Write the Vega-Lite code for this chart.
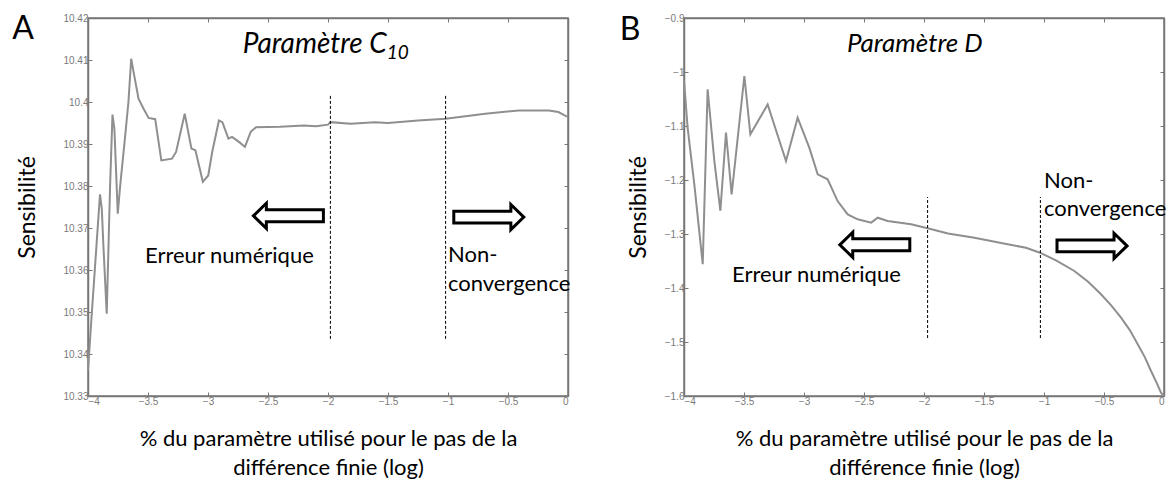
{
  "$schema": "https://vega.github.io/schema/vega-lite/v6.json",
  "background": "white",
  "padding": {"left": 11, "top": 12, "right": 0, "bottom": 0},
  "spacing": 45,
  "config": {
    "view": {"stroke": "#777777", "strokeWidth": 1.5},
    "axis": {
      "grid": false,
      "labelFont": "Liberation Sans",
      "labelFontSize": 10,
      "labelColor": "#7a7a7a",
      "labelPadding": 4,
      "tickColor": "#777777",
      "tickSize": -4,
      "domainColor": "#777777",
      "domainWidth": 1.5,
      "titleFont": "Lato",
      "titleFontSize": 22,
      "titleFontWeight": "normal",
      "titleColor": "#000000"
    }
  },
  "datasets": {
    "curveA": [
      {"x": -4.0, "y": 10.336}, {"x": -3.97, "y": 10.349}, {"x": -3.9, "y": 10.378}, {"x": -3.885, "y": 10.3746},
      {"x": -3.872, "y": 10.366}, {"x": -3.844, "y": 10.3496}, {"x": -3.816, "y": 10.38}, {"x": -3.796, "y": 10.397},
      {"x": -3.78, "y": 10.3936}, {"x": -3.752, "y": 10.3734}, {"x": -3.732, "y": 10.38}, {"x": -3.69, "y": 10.392},
      {"x": -3.663, "y": 10.4}, {"x": -3.64, "y": 10.4103}, {"x": -3.62, "y": 10.4071}, {"x": -3.579, "y": 10.4008},
      {"x": -3.537, "y": 10.3984}, {"x": -3.495, "y": 10.3962}, {"x": -3.44, "y": 10.3959}, {"x": -3.389, "y": 10.3861},
      {"x": -3.3, "y": 10.3865}, {"x": -3.266, "y": 10.3881}, {"x": -3.194, "y": 10.3972}, {"x": -3.138, "y": 10.3889},
      {"x": -3.105, "y": 10.3885}, {"x": -3.043, "y": 10.381}, {"x": -2.998, "y": 10.3825}, {"x": -2.965, "y": 10.3881},
      {"x": -2.909, "y": 10.3956}, {"x": -2.88, "y": 10.3952}, {"x": -2.83, "y": 10.3913}, {"x": -2.8, "y": 10.3917},
      {"x": -2.742, "y": 10.3905}, {"x": -2.692, "y": 10.3893}, {"x": -2.644, "y": 10.3929}, {"x": -2.6, "y": 10.394},
      {"x": -2.4, "y": 10.3941}, {"x": -2.2, "y": 10.3944}, {"x": -2.1, "y": 10.3942}, {"x": -2.0, "y": 10.3946},
      {"x": -1.98, "y": 10.3952}, {"x": -1.81, "y": 10.3948}, {"x": -1.61, "y": 10.3952}, {"x": -1.5, "y": 10.395},
      {"x": -1.25, "y": 10.3956}, {"x": -1.02, "y": 10.396}, {"x": -0.69, "y": 10.3972}, {"x": -0.41, "y": 10.398},
      {"x": -0.16, "y": 10.398}, {"x": -0.08, "y": 10.3976}, {"x": -0.02, "y": 10.3967}, {"x": 0.0, "y": 10.3965}
    ],
    "curveB": [
      {"x": -4.0, "y": -1.015}, {"x": -3.97, "y": -1.103}, {"x": -3.914, "y": -1.208}, {"x": -3.844, "y": -1.356},
      {"x": -3.803, "y": -1.032}, {"x": -3.747, "y": -1.165}, {"x": -3.697, "y": -1.257}, {"x": -3.65, "y": -1.112},
      {"x": -3.603, "y": -1.2265}, {"x": -3.497, "y": -1.0074}, {"x": -3.447, "y": -1.1154}, {"x": -3.303, "y": -1.06},
      {"x": -3.15, "y": -1.165}, {"x": -3.053, "y": -1.0846}, {"x": -2.956, "y": -1.14}, {"x": -2.886, "y": -1.1895},
      {"x": -2.803, "y": -1.1988}, {"x": -2.72, "y": -1.239}, {"x": -2.636, "y": -1.2636}, {"x": -2.553, "y": -1.2728},
      {"x": -2.44, "y": -1.279}, {"x": -2.386, "y": -1.2698}, {"x": -2.303, "y": -1.276}, {"x": -2.108, "y": -1.282},
      {"x": -1.97, "y": -1.2895}, {"x": -1.8, "y": -1.299}, {"x": -1.58, "y": -1.3068}, {"x": -1.303, "y": -1.319},
      {"x": -1.15, "y": -1.3255}, {"x": -1.033, "y": -1.3346}, {"x": -0.9, "y": -1.349}, {"x": -0.747, "y": -1.3685},
      {"x": -0.63, "y": -1.389}, {"x": -0.525, "y": -1.4117}, {"x": -0.44, "y": -1.432}, {"x": -0.358, "y": -1.455},
      {"x": -0.285, "y": -1.478}, {"x": -0.219, "y": -1.504}, {"x": -0.16, "y": -1.528}, {"x": -0.108, "y": -1.5537},
      {"x": -0.06, "y": -1.576}, {"x": -0.025, "y": -1.594}, {"x": 0.0, "y": -1.6}
    ]
  },
  "hconcat": [
    {
      "width": 480,
      "height": 378,
      "resolve": {"axis": {"x": "independent", "y": "independent"}},
      "layer": [
        {
          "data": {"name": "curveA"},
          "mark": {"type": "line", "color": "#8f8f8f", "strokeWidth": 2},
          "encoding": {
            "x": {"field": "x", "type": "quantitative", "scale": {"domain": [-4, 0], "nice": false, "zero": false},
              "axis": {"orient": "bottom", "values": [-4, -3.5, -3, -2.5, -2, -1.5, -1, -0.5, 0], "format": "~g",
                "title": ["% du paramètre utilisé pour le pas de la", "différence finie (log)"],
                "titleBaseline": "top", "titleY": 32, "titleLineHeight": 29}},
            "y": {"field": "y", "type": "quantitative", "scale": {"domain": [10.33, 10.42], "nice": false, "zero": false},
              "axis": {"orient": "left", "values": [10.33, 10.34, 10.35, 10.36, 10.37, 10.38, 10.39, 10.4, 10.41, 10.42], "format": "~g",
                "title": "Sensibilité", "titleFontSize": 23, "titleX": -61, "titleBaseline": "middle"}}
          }
        },
        {
          "data": {"values": [{"x": -1.98, "y1": 10.3436, "y2": 10.4017}, {"x": -1.02, "y1": 10.3436, "y2": 10.4017}]},
          "mark": {"type": "rule", "color": "#000000", "strokeWidth": 1, "strokeDash": [3, 2]},
          "encoding": {
            "x": {"field": "x", "type": "quantitative", "axis": {"orient": "top", "labels": false, "title": null, "values": [-4, -3.5, -3, -2.5, -2, -1.5, -1, -0.5, 0]}},
            "y": {"field": "y1", "type": "quantitative", "axis": {"orient": "right", "labels": false, "title": null, "values": [10.33, 10.34, 10.35, 10.36, 10.37, 10.38, 10.39, 10.4, 10.41, 10.42]}},
            "y2": {"field": "y2"}
          }
        },
        {
          "data": {"values": [{"x": -2.33, "y": 10.3729, "dir": "left"}, {"x": -0.66, "y": 10.3726, "dir": "right"}]},
          "mark": {"type": "point", "filled": true, "fill": "white", "stroke": "black", "strokeWidth": 3, "opacity": 1, "size": 4900},
          "encoding": {
            "x": {"field": "x", "type": "quantitative", "axis": null},
            "y": {"field": "y", "type": "quantitative", "axis": null},
            "shape": {"field": "dir", "type": "nominal", "legend": null,
              "scale": {"domain": ["left", "right"], "range": ["M-1,0L-0.63,-0.36L-0.63,-0.17L1,-0.17L1,0.17L-0.63,0.17L-0.63,0.36Z", "M1,0L0.63,-0.36L0.63,-0.17L-1,-0.17L-1,0.17L0.63,0.17L0.63,0.36Z"]}}
          }
        },
        {
          "data": {"values": [{"x": -3.525, "y": 10.3633, "t": "Erreur numérique"}, {"x": -1.0, "y": 10.3636, "t": "Non-"}, {"x": -1.0, "y": 10.3567, "t": "convergence"}]},
          "mark": {"type": "text", "font": "Lato", "fontSize": 22, "align": "left", "baseline": "middle", "color": "#000000"},
          "encoding": {"x": {"field": "x", "type": "quantitative", "axis": null}, "y": {"field": "y", "type": "quantitative", "axis": null}, "text": {"field": "t"}}
        },
        {
          "data": {"values": [{"x": -2.71, "y": 10.4136, "t": "Paramètre C"}]},
          "mark": {"type": "text", "font": "Lato", "fontSize": 28, "fontStyle": "italic", "align": "left", "baseline": "middle", "color": "#000000"},
          "encoding": {"x": {"field": "x", "type": "quantitative", "axis": null}, "y": {"field": "y", "type": "quantitative", "axis": null}, "text": {"field": "t"}}
        },
        {
          "data": {"values": [{"x": -1.51, "y": 10.4116, "t": "10"}]},
          "mark": {"type": "text", "font": "Lato", "fontSize": 19, "fontStyle": "italic", "align": "left", "baseline": "middle", "color": "#000000"},
          "encoding": {"x": {"field": "x", "type": "quantitative", "axis": null}, "y": {"field": "y", "type": "quantitative", "axis": null}, "text": {"field": "t"}}
        },
        {
          "data": {"values": [{"x": -4.54, "y": 10.4173, "t": "A"}]},
          "mark": {"type": "text", "font": "Lato", "fontSize": 32, "align": "center", "baseline": "middle", "color": "#000000"},
          "encoding": {"x": {"field": "x", "type": "quantitative", "axis": null}, "y": {"field": "y", "type": "quantitative", "axis": null}, "text": {"field": "t"}}
        }
      ]
    },
    {
      "width": 480,
      "height": 378,
      "resolve": {"axis": {"x": "independent", "y": "independent"}},
      "layer": [
        {
          "data": {"name": "curveB"},
          "mark": {"type": "line", "color": "#8f8f8f", "strokeWidth": 2},
          "encoding": {
            "x": {"field": "x", "type": "quantitative", "scale": {"domain": [-4, 0], "nice": false, "zero": false},
              "axis": {"orient": "bottom", "values": [-4, -3.5, -3, -2.5, -2, -1.5, -1, -0.5, 0], "format": "~g",
                "title": ["% du paramètre utilisé pour le pas de la", "différence finie (log)"],
                "titleBaseline": "top", "titleY": 32, "titleLineHeight": 29}},
            "y": {"field": "y", "type": "quantitative", "scale": {"domain": [-1.6, -0.9], "nice": false, "zero": false},
              "axis": {"orient": "left", "values": [-1.6, -1.5, -1.4, -1.3, -1.2, -1.1, -1, -0.9], "format": "~g",
                "title": "Sensibilité", "titleFontSize": 23, "titleX": -46, "titleBaseline": "middle"}}
          }
        },
        {
          "data": {"values": [{"x": -1.97, "y1": -1.4926, "y2": -1.2315}, {"x": -1.03, "y1": -1.4926, "y2": -1.2315}]},
          "mark": {"type": "rule", "color": "#000000", "strokeWidth": 1, "strokeDash": [3, 2]},
          "encoding": {
            "x": {"field": "x", "type": "quantitative", "axis": {"orient": "top", "labels": false, "title": null, "values": [-4, -3.5, -3, -2.5, -2, -1.5, -1, -0.5, 0]}},
            "y": {"field": "y1", "type": "quantitative", "axis": {"orient": "right", "labels": false, "title": null, "values": [-1.6, -1.5, -1.4, -1.3, -1.2, -1.1, -1, -0.9]}},
            "y2": {"field": "y2"}
          }
        },
        {
          "data": {"values": [{"x": -2.41, "y": -1.32, "dir": "left"}, {"x": -0.6, "y": -1.322, "dir": "right"}]},
          "mark": {"type": "point", "filled": true, "fill": "white", "stroke": "black", "strokeWidth": 3, "opacity": 1, "size": 4900},
          "encoding": {
            "x": {"field": "x", "type": "quantitative", "axis": null},
            "y": {"field": "y", "type": "quantitative", "axis": null},
            "shape": {"field": "dir", "type": "nominal", "legend": null,
              "scale": {"domain": ["left", "right"], "range": ["M-1,0L-0.63,-0.36L-0.63,-0.17L1,-0.17L1,0.17L-0.63,0.17L-0.63,0.36Z", "M1,0L0.63,-0.36L0.63,-0.17L-1,-0.17L-1,0.17L0.63,0.17L0.63,0.36Z"]}}
          }
        },
        {
          "data": {"values": [{"x": -3.6, "y": -1.376, "t": "Erreur numérique"}, {"x": -1.0, "y": -1.2019, "t": "Non-"}, {"x": -1.0, "y": -1.2537, "t": "convergence"}]},
          "mark": {"type": "text", "font": "Lato", "fontSize": 22, "align": "left", "baseline": "middle", "color": "#000000"},
          "encoding": {"x": {"field": "x", "type": "quantitative", "axis": null}, "y": {"field": "y", "type": "quantitative", "axis": null}, "text": {"field": "t"}}
        },
        {
          "data": {"values": [{"x": -2.642, "y": -0.948, "t": "Paramètre D"}]},
          "mark": {"type": "text", "font": "Lato", "fontSize": 26, "fontStyle": "italic", "align": "left", "baseline": "middle", "color": "#000000"},
          "encoding": {"x": {"field": "x", "type": "quantitative", "axis": null}, "y": {"field": "y", "type": "quantitative", "axis": null}, "text": {"field": "t"}}
        },
        {
          "data": {"values": [{"x": -4.45, "y": -0.923, "t": "B"}]},
          "mark": {"type": "text", "font": "Lato", "fontSize": 32, "align": "center", "baseline": "middle", "color": "#000000"},
          "encoding": {"x": {"field": "x", "type": "quantitative", "axis": null}, "y": {"field": "y", "type": "quantitative", "axis": null}, "text": {"field": "t"}}
        }
      ]
    }
  ]
}
